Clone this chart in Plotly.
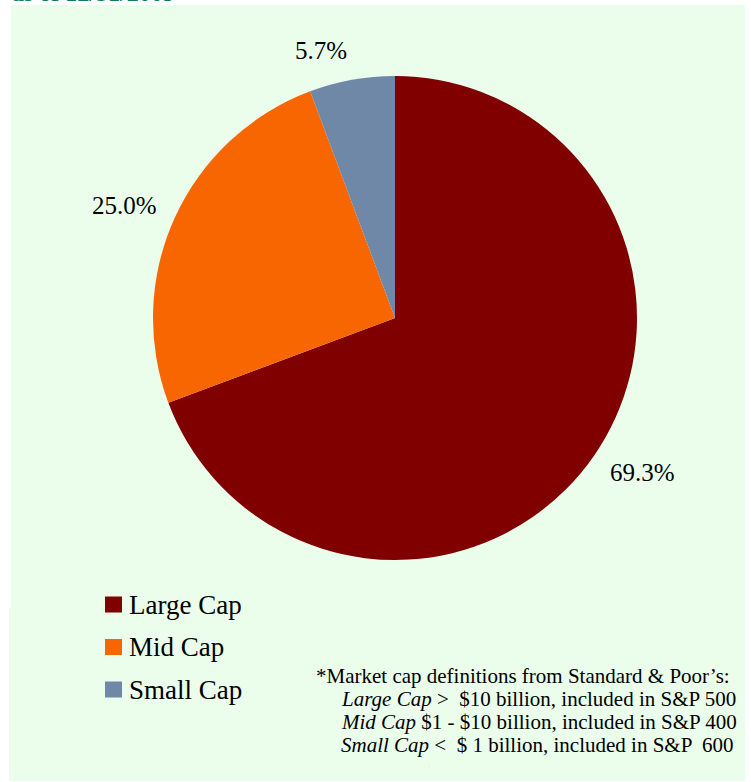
import math
import plotly.graph_objects as go

# Market-cap breakdown
segments = ["Large Cap", "Mid Cap", "Small Cap"]
shares = [69.3, 25.0, 5.7]
share_labels = ["69.3%", "25.0%", "5.7%"]
colors = ["#800000", "#F76600", "#6F88A8"]

footnote_head = "*Market cap definitions from Standard &amp; Poor\u2019s:"
footnote_lines = [
    "<i>Large Cap</i> &gt;\u00a0 $10 billion, included in S&amp;P 500",
    "<i>Mid Cap</i> $1 - $10 billion, included in S&amp;P 400",
    "<i>Small Cap</i> &lt;\u00a0 $ 1 billion, included in S&amp;P \u00a0600",
]
as_of = "as of 12/31/2009"

W, H = 751, 782
CX, CY, R = 395, 318, 242
LABEL_SIZE = 25
SERIF = "'Liberation Serif', 'Times New Roman', serif"
BG = "#EBFDEB"


def px(x):
    return x / W


def py(y):
    return 1 - y / H


fig = go.Figure(
    go.Pie(
        labels=segments,
        values=shares,
        sort=False,
        direction="clockwise",
        rotation=0,
        marker=dict(colors=colors, line=dict(width=0)),
        textinfo="none",
        hoverinfo="label+percent",
        domain=dict(x=[px(CX - R), px(CX + R)], y=[py(CY + R), py(CY - R)]),
        showlegend=False,
    )
)

# green panel behind the chart
fig.add_shape(type="rect", xref="paper", yref="paper", layer="below",
              x0=px(11), x1=px(745), y0=py(608), y1=py(5),
              fillcolor=BG, line=dict(width=0))
fig.add_shape(type="rect", xref="paper", yref="paper", layer="below",
              x0=px(9), x1=px(745), y0=py(781), y1=py(608),
              fillcolor=BG, line=dict(width=0))

# percentage labels placed just outside each slice, along its mid-angle
total = sum(shares)
acc = 0.0
for v, lab in zip(shares, share_labels):
    mid = (acc + v / 2) / total * 2 * math.pi
    acc += v
    s, c = math.sin(mid), math.cos(mid)
    ax = CX + 1.07 * R * s
    ay = CY - 1.07 * R * c - c * LABEL_SIZE / 2
    fig.add_annotation(
        x=px(ax), y=py(ay), xref="paper", yref="paper", text=lab,
        showarrow=False,
        xanchor="left" if s > 0 else "right",
        yanchor="middle",
        font=dict(family=SERIF, size=LABEL_SIZE, color="#000000"),
    )

# legend
for i, (name, col) in enumerate(zip(segments, colors)):
    yc = 604.5 + i * 42.5
    fig.add_shape(type="rect", xref="paper", yref="paper",
                  x0=px(105), x1=px(122), y0=py(yc + 8), y1=py(yc - 8),
                  fillcolor=col, line=dict(width=0))
    fig.add_annotation(
        x=px(127), y=py(yc), xref="paper", yref="paper", text=name,
        showarrow=False, xanchor="left", yanchor="middle",
        font=dict(family=SERIF, size=27, color="#000000"),
    )

# footnote
fig.add_annotation(
    x=px(314), y=py(676), xref="paper", yref="paper", text=footnote_head,
    showarrow=False, xanchor="left", yanchor="middle",
    font=dict(family=SERIF, size=21, color="#000000"),
)
for i, line in enumerate(footnote_lines):
    fig.add_annotation(
        x=px(339), y=py(699 + i * 23), xref="paper", yref="paper", text=line,
        showarrow=False, xanchor="left", yanchor="middle",
        font=dict(family=SERIF, size=21, color="#000000"),
    )

# date line, partly above the top edge
fig.add_annotation(
    x=px(10), y=py(8), xref="paper", yref="paper", text=f"<b>{as_of}</b>",
    showarrow=False, xanchor="left", yanchor="bottom",
    font=dict(family=SERIF, size=24, color="#0B7A5E"),
)

fig.update_layout(
    width=W, height=H,
    margin=dict(l=0, r=0, t=0, b=0),
    paper_bgcolor="#FFFFFF",
    plot_bgcolor="#FFFFFF",
    showlegend=False,
)

fig.write_html("out.html")
